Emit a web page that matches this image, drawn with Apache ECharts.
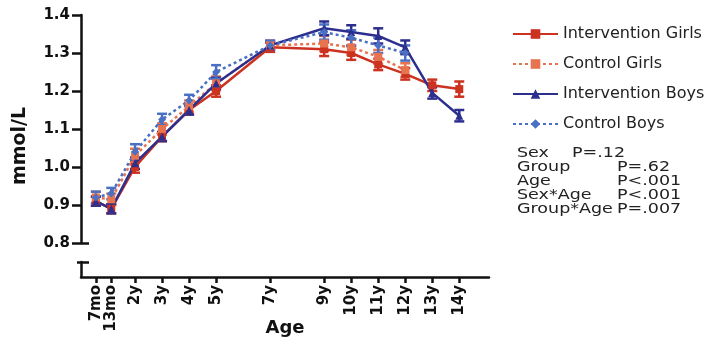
<!DOCTYPE html>
<html>
<head>
<meta charset="utf-8">
<script src="https://cdn.jsdelivr.net/npm/echarts@6/dist/echarts.min.js"></script>
<style>
html,body{margin:0;padding:0;background:#fff;}
#chart{width:716px;height:340px;}
</style>
</head>
<body>
<div id="chart"></div>
<script>
// Age positions (years) and their tick labels
var ages = [0.55, 1.12, 2, 3, 4, 5, 7, 9, 10, 11, 12, 13, 14];
var ageLabels = ['7mo', '13mo', '2y', '3y', '4y', '5y', '7y', '9y', '10y', '11y', '12y', '13y', '14y'];

// Means (mmol/L)
var interventionGirls = [0.91, 0.89, 1.00, 1.08, 1.15, 1.20, 1.315, 1.31, 1.30, 1.27, 1.245, 1.215, 1.205];
var controlGirls      = [0.92, 0.915, 1.03, 1.10, 1.16, 1.22, 1.32, 1.325, 1.315, 1.29, 1.255, null, null];
var interventionBoys  = [0.91, 0.89, 1.01, 1.08, 1.15, 1.22, 1.32, 1.365, 1.355, 1.345, 1.315, 1.195, 1.135];
var controlBoys       = [0.92, 0.93, 1.04, 1.125, 1.175, 1.25, 1.32, 1.355, 1.34, 1.32, 1.30, null, null];

// Error bar half-widths (SE)
var interventionGirlsErr = [0.012, 0.012, 0.015, 0.012, 0.012, 0.015, 0.012, 0.018, 0.018, 0.015, 0.015, 0.015, 0.02];
var controlGirlsErr      = [0.015, 0.015, 0.018, 0.015, 0.015, 0.018, 0.012, 0.02, 0.02, 0.018, 0.018, null, null];
var interventionBoysErr  = [0.012, 0.012, 0.015, 0.012, 0.012, 0.015, 0.012, 0.018, 0.018, 0.02, 0.018, 0.015, 0.015];
var controlBoysErr       = [0.015, 0.015, 0.02, 0.015, 0.015, 0.018, 0.012, 0.02, 0.02, 0.02, 0.02, null, null];

var seriesNames = ['Intervention Girls', 'Control Girls', 'Intervention Boys', 'Control Boys'];
var seriesColors = ['#cc3220', '#e8734f', '#2d2f8e', '#4a70c4'];
var statLabels = ['Sex', 'Group', 'Age', 'Sex*Age', 'Group*Age'];
var statValues = ['P=.12', 'P=.62', 'P<.001', 'P<.001', 'P=.007'];

var chart = echarts.init(document.getElementById('chart'), null, {renderer: 'canvas'});

function pairs(vals) {
  var out = [];
  for (var i = 0; i < ages.length; i++) if (vals[i] != null) out.push([ages[i], vals[i]]);
  return out;
}
function errPairs(vals, errs) {
  var out = [];
  for (var i = 0; i < ages.length; i++) if (vals[i] != null) out.push([ages[i], vals[i] - errs[i], vals[i] + errs[i]]);
  return out;
}
function errSeries(vals, errs, color) {
  return {
    type: 'custom', xAxisIndex: 0, yAxisIndex: 0, z: 3, silent: true,
    data: errPairs(vals, errs),
    renderItem: function (params, api) {
      var lo = api.coord([api.value(0), api.value(1)]);
      var hi = api.coord([api.value(0), api.value(2)]);
      var w = 5;
      return {
        type: 'group',
        children: [
          {type: 'line', shape: {x1: lo[0], y1: lo[1], x2: hi[0], y2: hi[1]}, style: {stroke: color, lineWidth: 2.5}},
          {type: 'line', shape: {x1: lo[0] - w, y1: lo[1], x2: lo[0] + w, y2: lo[1]}, style: {stroke: color, lineWidth: 2.5}},
          {type: 'line', shape: {x1: hi[0] - w, y1: hi[1], x2: hi[0] + w, y2: hi[1]}, style: {stroke: color, lineWidth: 2.5}}
        ]
      };
    }
  };
}

var mainVals = [interventionGirls, controlGirls, interventionBoys, controlBoys];
var mainErrs = [interventionGirlsErr, controlGirlsErr, interventionBoysErr, controlBoysErr];
var symbols = ['rect', 'rect', 'triangle', 'diamond'];
var dashed = [false, true, false, true];

var series = [];
for (var s = 0; s < 4; s++) {
  series.push(errSeries(mainVals[s], mainErrs[s], seriesColors[s]));
}
for (var s2 = 0; s2 < 4; s2++) {
  series.push({
    name: seriesNames[s2], type: 'line', xAxisIndex: 0, yAxisIndex: 0, z: 4,
    data: pairs(mainVals[s2]),
    symbol: symbols[s2], symbolSize: 8, showSymbol: true,
    itemStyle: {color: seriesColors[s2]},
    lineStyle: {color: seriesColors[s2], width: 2.5, type: dashed[s2] ? [3, 3] : 'solid'},
    animation: false
  });
}

var sans = 'DejaVu Sans, Liberation Sans, Arial, sans-serif';
var graphics = [
  {type: 'text', x: 20, y: 146, rotation: Math.PI / 2,
   style: {text: 'mmol/L', font: 'bold 19px ' + sans, fill: '#111', align: 'center', verticalAlign: 'middle'}}
];
var statY = [153, 167, 181, 195, 209];
var statX = [572, 617, 617, 617, 617];
for (var k = 0; k < statLabels.length; k++) {
  graphics.push({type: 'text', x: 517, y: statY[k], scaleX: 1.25,
    style: {text: statLabels[k], font: '14px ' + sans, fill: '#222', verticalAlign: 'middle'}});
  graphics.push({type: 'text', x: statX[k], y: statY[k], scaleX: 1.25,
    style: {text: statValues[k], font: '14px ' + sans, fill: '#222', verticalAlign: 'middle'}});
}

var option = {
  backgroundColor: '#fff',
  animation: false,
  grid: [
    {left: 81, top: 15, width: 408, height: 228, outerBoundsMode: 'none', containLabel: false},
    {left: 81, top: 262, width: 408, height: 15, outerBoundsMode: 'none', containLabel: false}
  ],
  legend: {
    orient: 'vertical', left: 512, top: 26, padding: 0, itemGap: 14, itemWidth: 45, itemHeight: 12,
    data: seriesNames,
    textStyle: {fontFamily: sans, fontSize: 16, color: '#222'}
  },
  xAxis: [
    {type: 'value', gridIndex: 0, min: 0, max: 15.1, show: false},
    {type: 'value', gridIndex: 1, min: 0, max: 15.1,
     name: 'Age', nameLocation: 'middle', nameGap: 42, nameMoveOverlap: false,
     nameTextStyle: {fontFamily: sans, fontWeight: 'bold', fontSize: 18, color: '#111'},
     axisLine: {lineStyle: {color: '#111', width: 2.5}},
     axisTick: {show: true, customValues: ages, length: 6, lineStyle: {color: '#111', width: 2.5}},
     axisLabel: {customValues: ages, rotate: 90, margin: 8, fontFamily: sans, fontWeight: 'bold', fontSize: 15, color: '#111',
       formatter: function (v) { for (var i = 0; i < ages.length; i++) if (Math.abs(ages[i] - v) < 1e-6) return ageLabels[i]; return ''; }},
     splitLine: {show: false}}
  ],
  yAxis: [
    {type: 'value', gridIndex: 0, min: 0.8, max: 1.4, interval: 0.1, position: 'left',
     axisLine: {show: true, lineStyle: {color: '#111', width: 2.5}},
     axisTick: {show: true, length: 9, lineStyle: {color: '#111', width: 2.5}},
     axisLabel: {margin: 11, fontFamily: sans, fontWeight: 'bold', fontSize: 15, color: '#111',
       formatter: function (v) { return v.toFixed(1); }},
     splitLine: {show: false}},
    {type: 'value', gridIndex: 1, min: 0, max: 1, position: 'left',
     axisLine: {show: true, lineStyle: {color: '#111', width: 2.5}},
     axisTick: {show: true, customValues: [1], length: 4, lineStyle: {color: '#111', width: 2.5}},
     axisLabel: {show: false}, splitLine: {show: false}},
    {type: 'value', gridIndex: 0, min: 0.8, max: 1.4, position: 'left',
     axisLine: {show: false},
     axisTick: {show: true, inside: true, customValues: [0.8], length: 8, lineStyle: {color: '#111', width: 2.5}},
     axisLabel: {show: false}, splitLine: {show: false}},
    {type: 'value', gridIndex: 1, min: 0, max: 1, position: 'left',
     axisLine: {show: false},
     axisTick: {show: true, inside: true, customValues: [1], length: 8, lineStyle: {color: '#111', width: 2.5}},
     axisLabel: {show: false}, splitLine: {show: false}}
  ],
  graphic: graphics,
  series: series
};
chart.setOption(option);
</script>
</body>
</html>
